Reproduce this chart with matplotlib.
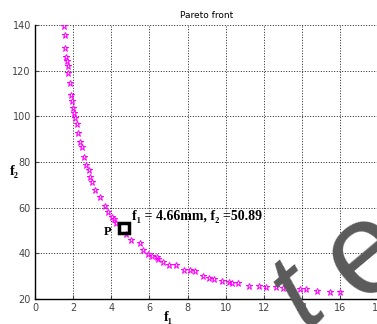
"""
Pareto front plot (f1 vs f2) with the chosen point P marked
"""
import numpy as np
import matplotlib
matplotlib.use("Agg")
import matplotlib.pyplot as plt

# Pareto points
f1_vals = [1.52, 1.56, 1.59, 1.63, 1.66, 1.71, 1.75, 1.82, 1.89, 1.94, 2.01, 2.06,
           2.11, 2.18, 2.23, 2.34, 2.46, 2.59, 2.69, 2.82, 2.90, 3.00, 3.17, 3.41,
           3.68, 3.82, 4.02, 4.15, 4.25, 4.78, 5.04, 5.52, 5.65, 5.93, 6.15, 6.39,
           6.44, 6.70, 7.01, 7.42, 7.79, 8.12, 8.38, 8.80, 9.15, 9.38, 9.83, 10.2,
           10.31, 10.65, 11.25, 11.75, 12.13, 12.65, 13.0, 13.39, 13.91, 14.23,
           14.79, 15.45, 16.01]
f2_vals = [139.5, 135.5, 129.8, 126.1, 124.2, 122.0, 119.0, 114.4, 109.4, 106.7,
           103.8, 101.3, 99.2, 96.8, 92.8, 88.9, 86.7, 82.3, 78.9, 76.6, 73.6, 71.4,
           67.9, 64.6, 60.9, 58.1, 56.0, 54.9, 53.2, 48.5, 45.8, 44.6, 41.5, 39.8,
           39.0, 38.2, 37.4, 36.1, 35.0, 35.0, 32.8, 32.5, 32.2, 30.2, 29.3, 28.6,
           27.9, 27.5, 27.0, 27.0, 25.8, 25.7, 25.4, 25.1, 24.9, 24.7, 24.5, 24.5,
           23.5, 23.2, 23.2]

# selected point
p_f1 = 4.66
p_f2 = 50.89

xticks = list(range(0, 20, 2))
yticks = list(range(20, 160, 20))

serif = ["Liberation Serif", "DejaVu Serif"]

fig = plt.figure(figsize=(3.77, 3.24), dpi=100)
ax = fig.add_axes([0.093, 0.077, 0.91, 0.846])

ax.plot(f1_vals, f2_vals, linestyle="none", marker="*", ms=5,
        mfc="none", mec="#ff00ff", mew=0.7, zorder=3)
ax.plot([p_f1], [p_f2], linestyle="none", marker="s", ms=7,
        mfc="none", mec="k", mew=2.5, zorder=4)

ax.text(p_f1 - 0.85, p_f2 - 1.5, "P", family=serif, fontweight="bold",
        fontsize=9, ha="center", va="center")
ax.text(p_f1 + 0.45, p_f2 + 2.3, "f\u2081 = 4.66mm, f\u2082 =50.89", family=serif,
        fontweight="bold", fontsize=10, ha="left", va="bottom")

ax.set_xlim(0, 18)
ax.set_ylim(20, 140)
ax.set_xticks(xticks)
ax.set_yticks(yticks)
ax.tick_params(direction="in", length=3, labelsize=7, colors="#444444", pad=3)
ax.grid(True, color="black", linestyle=(0, (1.2, 2)), linewidth=0.6)
ax.spines["top"].set_visible(False)
ax.spines["right"].set_visible(False)
for s in ("left", "bottom"):
    ax.spines[s].set_linewidth(1.0)

ax.set_title("Pareto front", fontsize=6.5, pad=5)
fig.text(168 / 377, 1 - 318 / 324, "f\u2081", family=serif, fontweight="bold",
         fontsize=10, ha="center", va="center")
fig.text(14 / 377, 1 - 172 / 324, "f\u2082", family=serif, fontweight="bold",
         fontsize=10, ha="center", va="center")

# gray watermark fragment in the lower right corner
wm = dict(family="Liberation Sans", color="#5a5a5a", rotation=40,
          rotation_mode="anchor", ha="left", va="baseline", zorder=10)
fig.text(305 / 377, 1 - 328 / 324, "t", fontsize=80, style="italic", **wm)
fig.text(361 / 377, 1 - 304 / 324, "e", fontsize=95, **wm)

fig.savefig("out.png", dpi=100)
